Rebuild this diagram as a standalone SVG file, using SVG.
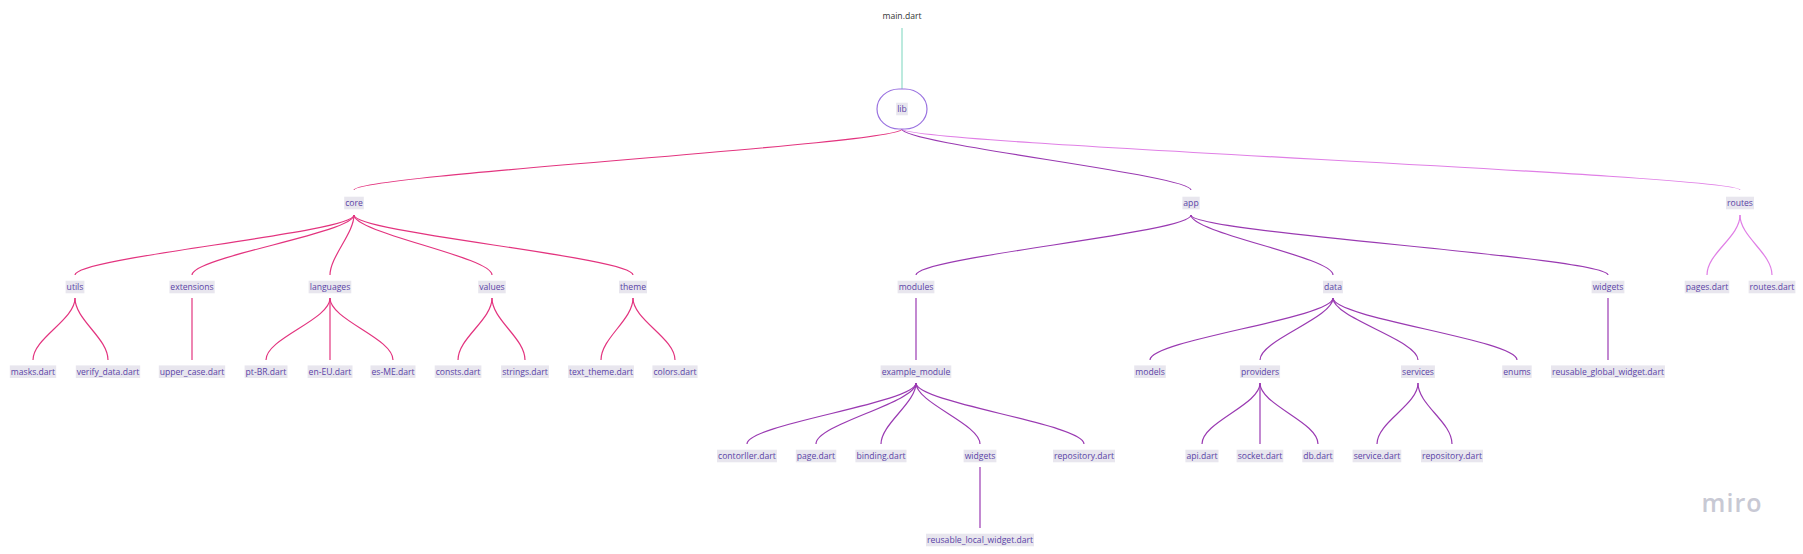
<svg xmlns="http://www.w3.org/2000/svg" width="1803" height="554" viewBox="0 0 1803 554">
<style>
.bg{fill:#e8e6ee}
.t{font-family:"Open Sans","Liberation Sans",sans-serif;font-size:8.6px;fill:#5a44a6;text-anchor:middle}
.c{fill:none;stroke-width:1.2}
.pk{stroke:#e3347f}
.pu{stroke:#9a3ab2}
.or{stroke:#e07fe6}
.tl{stroke:#8fdcc8}
</style>
<rect width="1803" height="554" fill="#ffffff"/>
<g id="connectors">
<path class="c tl" d="M902 28 L902 89"/>
<path class="c pk" d="M902 129 C902 144 354 175 354 190"/>
<path class="c pu" d="M902 129 C902 144 1191 175 1191 190"/>
<path class="c or" d="M902 129 C902 144 1740 175 1740 190"/>
<path class="c pk" d="M354 215 C354 233 75 257 75 275"/>
<path class="c pk" d="M354 215 C354 233 192 257 192 275"/>
<path class="c pk" d="M354 215 C354 233 330 257 330 275"/>
<path class="c pk" d="M354 215 C354 233 492 257 492 275"/>
<path class="c pk" d="M354 215 C354 233 633 257 633 275"/>
<path class="c pk" d="M75 298 C75 320 33 338 33 360"/>
<path class="c pk" d="M75 298 C75 320 108 338 108 360"/>
<path class="c pk" d="M192 298 L192 360"/>
<path class="c pk" d="M330 298 C330 320 266 338 266 360"/>
<path class="c pk" d="M330 298 L330 360"/>
<path class="c pk" d="M330 298 C330 320 393 338 393 360"/>
<path class="c pk" d="M492 298 C492 320 458 338 458 360"/>
<path class="c pk" d="M492 298 C492 320 525 338 525 360"/>
<path class="c pk" d="M633 298 C633 320 601 338 601 360"/>
<path class="c pk" d="M633 298 C633 320 675 338 675 360"/>
<path class="c pu" d="M1191 215 C1191 233 916 257 916 275"/>
<path class="c pu" d="M1191 215 C1191 233 1333 257 1333 275"/>
<path class="c pu" d="M1191 215 C1191 233 1608 257 1608 275"/>
<path class="c pu" d="M916 298 L916 360"/>
<path class="c pu" d="M1333 298 C1333 318 1150 340 1150 360"/>
<path class="c pu" d="M1333 298 C1333 318 1260 340 1260 360"/>
<path class="c pu" d="M1333 298 C1333 318 1418 340 1418 360"/>
<path class="c pu" d="M1333 298 C1333 318 1517 340 1517 360"/>
<path class="c pu" d="M1608 298 L1608 360"/>
<path class="c pu" d="M916 383 C916 403 747 424 747 444"/>
<path class="c pu" d="M916 383 C916 403 816 424 816 444"/>
<path class="c pu" d="M916 383 C916 403 881 424 881 444"/>
<path class="c pu" d="M916 383 C916 403 980 424 980 444"/>
<path class="c pu" d="M916 383 C916 403 1084 424 1084 444"/>
<path class="c pu" d="M980 467 L980 528"/>
<path class="c pu" d="M1260 383 C1260 405 1202 422 1202 444"/>
<path class="c pu" d="M1260 383 L1260 444"/>
<path class="c pu" d="M1260 383 C1260 405 1318 422 1318 444"/>
<path class="c pu" d="M1418 383 C1418 405 1377 422 1377 444"/>
<path class="c pu" d="M1418 383 C1418 405 1452 422 1452 444"/>
<path class="c or" d="M1740 215 C1740 237 1707 253 1707 275"/>
<path class="c or" d="M1740 215 C1740 237 1772 253 1772 275"/>
</g>
<g id="main_dart"><text x="902" y="15.7" dy=".35em" class="t" style="fill:#333333">main.dart</text></g>
<g id="lib"><rect x="877" y="89" width="50" height="40" rx="22" ry="20" fill="#ffffff" stroke="#9a72e0" stroke-width="1.2"/><rect class="bg" x="896.2" y="102.7" width="11.6" height="12.6"/><text x="902" y="109" dy=".35em" class="t">lib</text></g>
<g id="core"><rect class="bg" x="344.2" y="196.7" width="19.6" height="12.6"/><text x="354" y="203" dy=".35em" class="t">core</text></g>
<g id="app"><rect class="bg" x="1182.4" y="196.7" width="17.3" height="12.6"/><text x="1191" y="203" dy=".35em" class="t">app</text></g>
<g id="routes"><rect class="bg" x="1726" y="196.7" width="28" height="12.6"/><text x="1740" y="203" dy=".35em" class="t">routes</text></g>
<g id="utils"><rect class="bg" x="65.6" y="280.7" width="18.8" height="12.6"/><text x="75" y="287" dy=".35em" class="t">utils</text></g>
<g id="extensions"><rect class="bg" x="169.4" y="280.7" width="45.3" height="12.6"/><text x="192" y="287" dy=".35em" class="t">extensions</text></g>
<g id="languages"><rect class="bg" x="308.6" y="280.7" width="42.7" height="12.6"/><text x="330" y="287" dy=".35em" class="t">languages</text></g>
<g id="values"><rect class="bg" x="478.2" y="280.7" width="27.5" height="12.6"/><text x="492" y="287" dy=".35em" class="t">values</text></g>
<g id="theme"><rect class="bg" x="619" y="280.7" width="28" height="12.6"/><text x="633" y="287" dy=".35em" class="t">theme</text></g>
<g id="masks"><rect class="bg" x="9.8" y="365.4" width="46.4" height="12.6"/><text x="33" y="371.7" dy=".35em" class="t">masks.dart</text></g>
<g id="verify_data"><rect class="bg" x="75.8" y="365.4" width="64.4" height="12.6"/><text x="108" y="371.7" dy=".35em" class="t">verify_data.dart</text></g>
<g id="upper_case"><rect class="bg" x="158.8" y="365.4" width="66.4" height="12.6"/><text x="192" y="371.7" dy=".35em" class="t">upper_case.dart</text></g>
<g id="pt_br"><rect class="bg" x="244.6" y="365.4" width="42.9" height="12.6"/><text x="266" y="371.7" dy=".35em" class="t">pt-BR.dart</text></g>
<g id="en_eu"><rect class="bg" x="307.6" y="365.4" width="44.9" height="12.6"/><text x="330" y="371.7" dy=".35em" class="t">en-EU.dart</text></g>
<g id="es_me"><rect class="bg" x="370.5" y="365.4" width="45" height="12.6"/><text x="393" y="371.7" dy=".35em" class="t">es-ME.dart</text></g>
<g id="consts"><rect class="bg" x="434.7" y="365.4" width="46.7" height="12.6"/><text x="458" y="371.7" dy=".35em" class="t">consts.dart</text></g>
<g id="strings"><rect class="bg" x="501.1" y="365.4" width="47.8" height="12.6"/><text x="525" y="371.7" dy=".35em" class="t">strings.dart</text></g>
<g id="text_theme"><rect class="bg" x="568.1" y="365.4" width="65.8" height="12.6"/><text x="601" y="371.7" dy=".35em" class="t">text_theme.dart</text></g>
<g id="colors"><rect class="bg" x="652.4" y="365.4" width="45.2" height="12.6"/><text x="675" y="371.7" dy=".35em" class="t">colors.dart</text></g>
<g id="modules"><rect class="bg" x="897.6" y="280.7" width="36.8" height="12.6"/><text x="916" y="287" dy=".35em" class="t">modules</text></g>
<g id="data"><rect class="bg" x="1323" y="280.7" width="19.9" height="12.6"/><text x="1333" y="287" dy=".35em" class="t">data</text></g>
<g id="widgets_app"><rect class="bg" x="1591.6" y="280.7" width="32.8" height="12.6"/><text x="1608" y="287" dy=".35em" class="t">widgets</text></g>
<g id="pages"><rect class="bg" x="1684.7" y="280.7" width="44.6" height="12.6"/><text x="1707" y="287" dy=".35em" class="t">pages.dart</text></g>
<g id="routes_dart"><rect class="bg" x="1748.6" y="280.7" width="46.8" height="12.6"/><text x="1772" y="287" dy=".35em" class="t">routes.dart</text></g>
<g id="example_module"><rect class="bg" x="880.6" y="365.4" width="70.7" height="12.6"/><text x="916" y="371.7" dy=".35em" class="t">example_module</text></g>
<g id="models"><rect class="bg" x="1134.2" y="365.4" width="31.6" height="12.6"/><text x="1150" y="371.7" dy=".35em" class="t">models</text></g>
<g id="providers"><rect class="bg" x="1239.9" y="365.4" width="40.2" height="12.6"/><text x="1260" y="371.7" dy=".35em" class="t">providers</text></g>
<g id="services"><rect class="bg" x="1401" y="365.4" width="33.9" height="12.6"/><text x="1418" y="371.7" dy=".35em" class="t">services</text></g>
<g id="enums"><rect class="bg" x="1502.2" y="365.4" width="29.5" height="12.6"/><text x="1517" y="371.7" dy=".35em" class="t">enums</text></g>
<g id="reusable_global_widget"><rect class="bg" x="1551" y="365.4" width="113.9" height="12.6"/><text x="1608" y="371.7" dy=".35em" class="t">reusable_global_widget.dart</text></g>
<g id="contorller"><rect class="bg" x="717" y="449.7" width="59.9" height="12.6"/><text x="747" y="456" dy=".35em" class="t">contorller.dart</text></g>
<g id="page"><rect class="bg" x="795.8" y="449.7" width="40.5" height="12.6"/><text x="816" y="456" dy=".35em" class="t">page.dart</text></g>
<g id="binding"><rect class="bg" x="855.4" y="449.7" width="51.1" height="12.6"/><text x="881" y="456" dy=".35em" class="t">binding.dart</text></g>
<g id="widgets_module"><rect class="bg" x="963.6" y="449.7" width="32.8" height="12.6"/><text x="980" y="456" dy=".35em" class="t">widgets</text></g>
<g id="repository_module"><rect class="bg" x="1053" y="449.7" width="62" height="12.6"/><text x="1084" y="456" dy=".35em" class="t">repository.dart</text></g>
<g id="api"><rect class="bg" x="1185.4" y="449.7" width="33.1" height="12.6"/><text x="1202" y="456" dy=".35em" class="t">api.dart</text></g>
<g id="socket"><rect class="bg" x="1236.6" y="449.7" width="46.7" height="12.6"/><text x="1260" y="456" dy=".35em" class="t">socket.dart</text></g>
<g id="db"><rect class="bg" x="1302.3" y="449.7" width="31.4" height="12.6"/><text x="1318" y="456" dy=".35em" class="t">db.dart</text></g>
<g id="service"><rect class="bg" x="1352.6" y="449.7" width="48.7" height="12.6"/><text x="1377" y="456" dy=".35em" class="t">service.dart</text></g>
<g id="repository_data"><rect class="bg" x="1421" y="449.7" width="62" height="12.6"/><text x="1452" y="456" dy=".35em" class="t">repository.dart</text></g>
<g id="reusable_local_widget"><rect class="bg" x="926" y="533.7" width="108" height="12.6"/><text x="980" y="540" dy=".35em" class="t">reusable_local_widget.dart</text></g>
<text x="1732" y="512" text-anchor="middle" font-family="'Open Sans','Liberation Sans',sans-serif" font-size="25" font-weight="600" fill="#c8c9d4" letter-spacing="1">miro</text>
</svg>
